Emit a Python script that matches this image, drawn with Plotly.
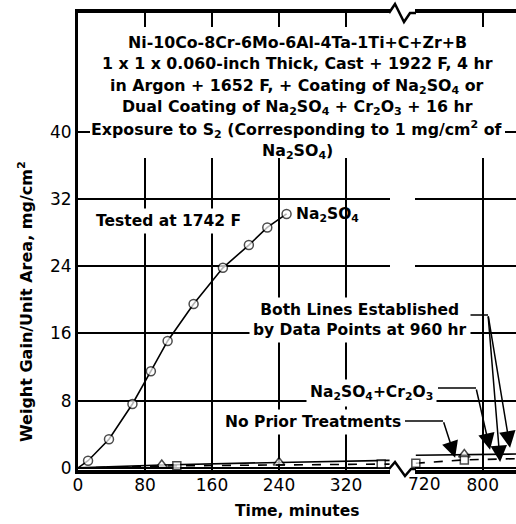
import plotly.graph_objects as go

# ---------------- data ----------------
na_t = [0, 12, 37, 65, 87, 107, 138, 173, 204, 226, 249]
na_w = [0, 0.85, 3.4, 7.6, 11.5, 15.1, 19.5, 23.8, 26.5, 28.6, 30.2]

np_t_left = [0, 100, 240, 372]
np_w_left = [0, 0.35, 0.65, 0.9]
np_t_right = [720, 778, 840]
np_w_right = [1.5, 1.6, 1.65]

cr_t_left = [0, 118, 362, 372]
cr_w_left = [0, 0.25, 0.45, 0.45]
cr_t_right = [720, 778, 840]
cr_w_right = [0.55, 0.95, 1.1]

x_ticks_left = [0, 80, 160, 240, 320]
x_ticks_right = [720, 800]
y_ticks = [0, 8, 16, 24, 32, 40]

title_lines = [
    "Ni-10Co-8Cr-6Mo-6Al-4Ta-1Ti+C+Zr+B",
    "1 x 1 x 0.060-inch Thick, Cast + 1922 F, 4 hr",
    "in Argon + 1652 F, + Coating of Na<sub>2</sub>SO<sub>4</sub> or",
    "Dual Coating of Na<sub>2</sub>SO<sub>4</sub> + Cr<sub>2</sub>O<sub>3</sub> + 16 hr",
    "Exposure to S<sub>2</sub> (Corresponding to 1 mg/cm<sup>2</sup> of",
    "Na<sub>2</sub>SO<sub>4</sub>)",
]

# ---------------- helpers (pixel -> paper) ----------------
L, R, T, B = 78, 516, 13, 470
W, H = 516, 524


def px(x):
    return (x - L) / (R - L)


def py(y):
    return (B - y) / (B - T)


FONT = "DejaVu Sans"
BLACK = "black"

fig = go.Figure()


def add_series(t, w, sizes, symbol, dash, xa, ya):
    fig.add_trace(go.Scatter(
        x=t, y=w, mode="lines+markers", xaxis=xa, yaxis=ya,
        line=dict(color=BLACK, width=1.6, dash=dash),
        marker=dict(symbol=symbol, size=sizes, color="white",
                    line=dict(color=BLACK, width=1.5)),
        showlegend=False, cliponaxis=False,
    ))


# Na2SO4 (circles)
add_series(na_t, na_w, [0] + [9] * (len(na_t) - 1), "circle", "solid", "x", "y")
# No prior treatments (triangles)
add_series(np_t_left, np_w_left, [0, 10, 10, 0], "triangle-up", "solid", "x", "y")
add_series(np_t_right, np_w_right, [0, 10, 0], "triangle-up", "solid", "x2", "y2")
# Na2SO4 + Cr2O3 (squares)
add_series(cr_t_left, cr_w_left, [0, 8, 8, 0], "square", "dash", "x", "y")
add_series(cr_t_right, cr_w_right, [8, 8, 0], "square", "dash", "x2", "y2")

axis_common = dict(
    showgrid=True, gridcolor=BLACK, gridwidth=1.6, zeroline=False,
    showline=True, linecolor=BLACK,
    tickfont=dict(family=FONT, size=17, color=BLACK),
    ticks="",
)

yr = [-0.25, 54.1]

fig.update_layout(
    width=W, height=H,
    margin=dict(l=L, r=W - R, t=T, b=H - B),
    paper_bgcolor="white", plot_bgcolor="white",
    showlegend=False,
    xaxis=dict(domain=[0, px(390)], range=[0, 372.5], tickvals=x_ticks_left,
               anchor="y", mirror=True, linewidth=3.5, ticklabelstandoff=-3,
               **axis_common),
    xaxis2=dict(domain=[px(415), 1], range=[719, 839.8], tickvals=x_ticks_right,
                ticktext=["", "800"], anchor="y2", mirror=True, linewidth=3.5,
                ticklabelstandoff=-3, **axis_common),
    yaxis=dict(domain=[0, 1], range=yr, tickvals=y_ticks, anchor="x",
               linewidth=3, ticklabelstandoff=0, **axis_common),
    yaxis2=dict(domain=[0, 1], range=yr, tickvals=y_ticks, anchor="x2",
                matches="y", showticklabels=False, showgrid=True,
                gridcolor=BLACK, gridwidth=1.6, zeroline=False, showline=False),
)

shapes = []
# white box behind the title block
shapes.append(dict(type="rect", xref="paper", yref="paper",
                   x0=px(90), x1=px(505), y0=py(158), y1=py(27),
                   fillcolor="white", line=dict(width=0), layer="above"))


def path(points):
    return "M " + " L ".join(f"{px(a):.5f},{py(b):.5f}" for a, b in points)


# axis break zigzags
shapes.append(dict(type="path", xref="paper", yref="paper",
                   path=path([(389, 13), (395, 4), (404, 22), (410, 13), (416, 13)]),
                   line=dict(color=BLACK, width=2.5), layer="above"))
shapes.append(dict(type="path", xref="paper", yref="paper",
                   path=path([(389, 469), (395, 462), (405, 476), (411, 469), (416, 469)]),
                   line=dict(color=BLACK, width=2.5), layer="above"))
# leader lines
for pts in ([(405, 421), (443, 421)],
            [(438, 388), (476, 388)],
            [(470, 315), (488, 315)]):
    shapes.append(dict(type="path", xref="paper", yref="paper", path=path(pts),
                       line=dict(color=BLACK, width=1.5), layer="above"))
fig.update_layout(shapes=shapes)

ann = []
bold = dict(family=FONT, size=15.5, color=BLACK, weight="bold")

# title lines
title_y = [42, 64, 86, 108, 129, 151]
for txt, yy in zip(title_lines, title_y):
    ann.append(dict(text=txt, x=px(297), y=py(yy), xref="paper", yref="paper",
                    showarrow=False, xanchor="center", yanchor="middle",
                    font=dict(family=FONT, size=15.8, color=BLACK, weight="bold")))

labels = [
    ("Tested at 1742 F", 168, 221, "center"),
    ("Both Lines Established<br>by Data Points at 960 hr", 360, 320, "center"),
    ("Na<sub>2</sub>SO<sub>4</sub>+Cr<sub>2</sub>O<sub>3</sub>", 437, 393, "right"),
    ("No Prior Treatments", 405, 422, "right"),
]
for txt, xx, yy, xa in labels:
    ann.append(dict(text=txt, x=px(xx), y=py(yy), xref="paper", yref="paper",
                    showarrow=False, xanchor=xa, yanchor="middle",
                    bgcolor="white", borderpad=3, font=bold))

ann.append(dict(text="Na<sub>2</sub>SO<sub>4</sub>", x=px(294), y=py(215),
                xref="paper", yref="paper", showarrow=False, xanchor="left",
                yanchor="middle", font=bold))

# arrows (tips on the right-panel lines)
arrows = [
    ((767, 1.2), (752.7, 5.6)),
    ((808.8, 2.15), (792, 9.5)),
    ((832.7, 2.4), (806.4, 18.2)),
    ((820.8, 0.7), (806.4, 18.2)),
]
for (tx, ty), (axx, ayy) in arrows:
    ann.append(dict(text="", x=tx, y=ty, xref="x2", yref="y2",
                    ax=axx, ay=ayy, axref="x2", ayref="y2",
                    showarrow=True, arrowhead=2, arrowsize=2.2,
                    arrowwidth=1.5, arrowcolor=BLACK, standoff=0))

# 720 tick label (offset to the right of the break, as in the original)
ann.append(dict(text="720", x=px(424), y=py(484), xref="paper", yref="paper",
                showarrow=False, xanchor="center", yanchor="middle",
                font=dict(family=FONT, size=17, color=BLACK)))

# axis titles
ann.append(dict(text="Time, minutes", x=px(297), y=py(511), xref="paper",
                yref="paper", showarrow=False, xanchor="center",
                yanchor="middle", font=bold))
ann.append(dict(text="Weight Gain/Unit Area, mg/cm<sup>2</sup>", x=px(25),
                y=py(302), xref="paper", yref="paper", showarrow=False,
                textangle=-90, xanchor="center", yanchor="middle",
                font=dict(family=FONT, size=16, color=BLACK, weight="bold")))

fig.update_layout(annotations=ann)

fig.write_html("out.html")
